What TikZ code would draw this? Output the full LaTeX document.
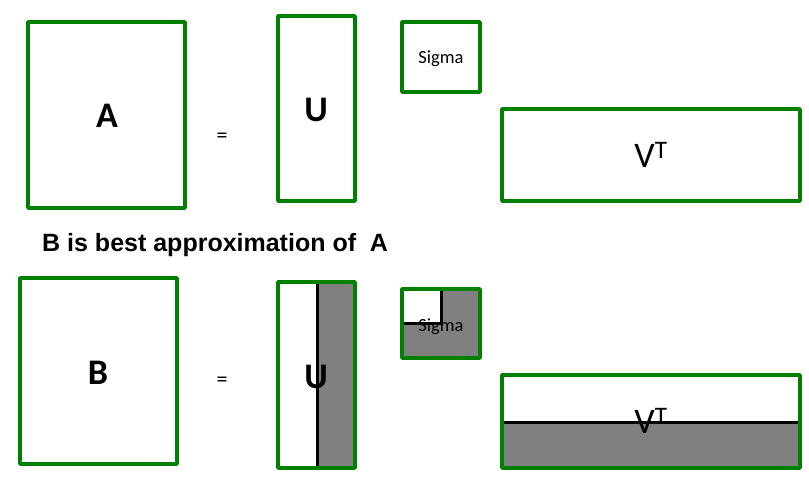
\documentclass[tikz,border=0pt]{standalone}
\usepackage{fontspec}
\setmainfont{Carlito}
\newfontfamily\arialfont{Liberation Sans}
\definecolor{boxgreen}{RGB}{0,128,0}
\definecolor{fillgray}{RGB}{128,128,128}
\tikzset{
  mat/.style={draw=boxgreen, line width=3.6pt, line join=round},
  divline/.style={draw=black, line width=3pt},
  biglabel/.style={font=\fontsize{36}{36}\selectfont\bfseries, inner sep=0pt},
  vlabel/.style={font=\fontsize{36}{36}\selectfont, inner sep=0pt},
  siglabel/.style={font=\fontsize{18.5}{18.5}\selectfont, inner sep=0pt},
  eqlabel/.style={font=\fontsize{22}{22}\selectfont, inner sep=0pt},
}
\begin{document}
\begin{tikzpicture}[x=1pt,y=-1pt]
\useasboundingbox (0,0) rectangle (809,484);
% top row
\draw[mat] (28,22) rectangle (185,208);
\node[biglabel] (A) at (107,116) {A};
\node[eqlabel] (eq1) at (222,138) {=};
\draw[mat] (278,16) rectangle (355,201);
\node[biglabel] (U) at (316,110) {U};
\draw[mat] (402,22) rectangle (480,92);
\node[siglabel] (S) at (441,59) {Sigma};
\draw[mat] (502,109) rectangle (800,201);
\node[vlabel] (V) at (651,155) {V\textsuperscript{T}};
% title
\node[font=\arialfont\bfseries\fontsize{25}{25}\selectfont, anchor=west, inner sep=0pt] (title) at (42,245) {B is best approximation of\ \ A};
% bottom row
\draw[mat] (20,278) rectangle (177,464);
\node[biglabel] (B) at (98,373) {B};
\node[eqlabel] (eq2) at (222,382) {=};
% U truncated
\fill[fillgray] (317,282) rectangle (355,468);
\node[biglabel] (U2) at (316,377) {U};
\draw[divline] (317,283) -- (317,468);
\draw[mat] (278,282) rectangle (355,468);
% Sigma truncated
\fill[fillgray] (402,289) rectangle (480,358);
\fill[white] (402,289) rectangle (441,323);
\node[siglabel] (S2) at (441,327) {Sigma};
\draw[divline] (441,288) -- (441,323) -- (402,323);
\draw[mat] (402,289) rectangle (480,358);
% V^T truncated
\fill[fillgray] (502,422) rectangle (800,468);
\node[vlabel] (V2) at (651,421) {V\textsuperscript{T}};
\draw[divline] (502,422) -- (800,422);
\draw[mat] (502,375) rectangle (800,468);
\end{tikzpicture}
\end{document}
